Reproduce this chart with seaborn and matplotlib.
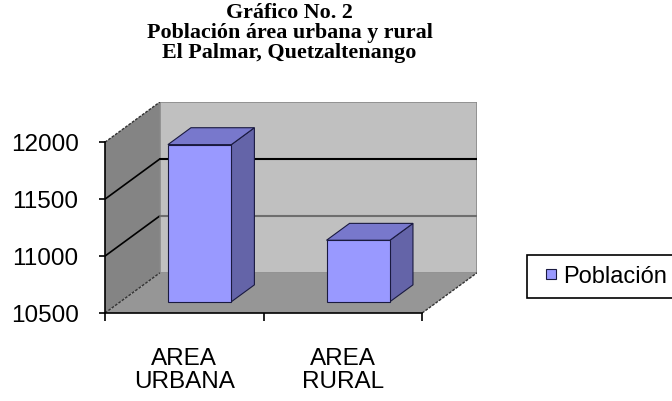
import matplotlib
matplotlib.use('Agg')
import matplotlib.pyplot as plt
from matplotlib.patches import Polygon
from matplotlib.lines import Line2D
import seaborn as sns

# datos
categorias = ['AREA\nURBANA', 'AREA\nRURAL']
poblacion = [11880, 11040]
serie = 'Población'
titulo = 'Gráfico No. 2\nPoblación área urbana y rural\nEl Palmar, Quetzaltenango'
yticks = [10500, 11000, 11500, 12000]

sns.set_theme(style='white')
plt.rcParams['font.family'] = ['Liberation Sans', 'DejaVu Sans']
plt.rcParams['text.color'] = 'black'
plt.rcParams['xtick.color'] = 'black'
plt.rcParams['ytick.color'] = 'black'

# colores tipo Excel 3D
c_frente = '#9999FF'
c_lado = '#6464A8'
c_tapa = '#7878CC'
c_fondo = '#C0C0C0'
c_pared = '#848484'
c_piso = '#969696'

ymin, ymax = yticks[0], yticks[-1]
DX = 0.346   # profundidad en unidades de x
DY = 353     # profundidad en unidades de y
d0, d1 = 0.28, 0.70  # profundidad de las barras

fig = plt.figure(figsize=(6.72, 4.01), dpi=100)
ax = fig.add_axes([105 / 672, 1 - 313 / 401, 372 / 672, 211 / 401])

# barras
sns.barplot(x=categorias, y=poblacion, color=c_frente, width=0.4, saturation=1,
            edgecolor='#1a1a40', linewidth=0.8, ax=ax, zorder=2)
ax.set_xlim(-0.5, 1.5 + DX)
ax.set_ylim(ymin, ymax + DY)


def P(x, y, d):
    return (x + d * DX, y + d * DY)


x0, x1 = -0.5, 1.5
# paredes
ax.add_patch(Polygon([P(x0, ymin, 1), P(x1, ymin, 1), P(x1, ymax, 1), P(x0, ymax, 1)],
                     closed=True, fc=c_fondo, ec='#8a8a8a', lw=1.2, zorder=0))
ax.add_patch(Polygon([P(x0, ymin, 0), P(x0, ymax, 0), P(x0, ymax, 1), P(x0, ymin, 1)],
                     closed=True, fc=c_pared, ec='none', zorder=0.5))
ax.add_patch(Polygon([P(x0, ymin, 0), P(x1, ymin, 0), P(x1, ymin, 1), P(x0, ymin, 1)],
                     closed=True, fc=c_piso, ec='none', zorder=0.5))
# bordes punteados de la pared y piso
for a, b in [(P(x0, ymax, 0), P(x0, ymax, 1)), (P(x0, ymin, 0), P(x0, ymin, 1)),
             (P(x1, ymin, 0), P(x1, ymin, 1))]:
    ax.plot([a[0], b[0]], [a[1], b[1]], color='#333333', lw=1, ls=(0, (2, 1)), zorder=0.8)

# lineas de cuadricula
for v in yticks[1:-1]:
    col = 'black' if v == 11500 else '#6e6e6e'
    a, b, c = P(x0, v, 0), P(x0, v, 1), P(x1, v, 1)
    ax.plot([a[0], b[0]], [a[1], b[1]], color='black', lw=1.2, zorder=0.8)
    ax.plot([b[0], c[0]], [b[1], c[1]], color=col, lw=1.5, zorder=0.8)

for bar in list(ax.patches):
    if not hasattr(bar, 'get_width') or bar.get_height() < ymin:
        continue
    xl = bar.get_x()
    xr = xl + bar.get_width()
    top = bar.get_height()
    bar.set_x(xl + d0 * DX)
    bar.set_y(ymin + d0 * DY)
    bar.set_height(top - ymin)
    ax.add_patch(Polygon([P(xr, ymin, d0), P(xr, ymin, d1), P(xr, top, d1), P(xr, top, d0)],
                         closed=True, fc=c_lado, ec='#1a1a40', lw=0.8, zorder=1.9))
    ax.add_patch(Polygon([P(xl, top, d0), P(xr, top, d0), P(xr, top, d1), P(xl, top, d1)],
                         closed=True, fc=c_tapa, ec='#1a1a40', lw=0.8, zorder=1.9))

# ejes
for s in ['top', 'right']:
    ax.spines[s].set_visible(False)
ax.spines['left'].set_bounds(ymin, ymax)
ax.spines['bottom'].set_bounds(x0, x1)
for s in ['left', 'bottom']:
    ax.spines[s].set_color('black')
    ax.spines[s].set_linewidth(1.2)
ax.set_yticks(yticks)
ax.set_yticklabels([str(v) for v in yticks])
ax.set_xticks([-0.5, 0.5, 1.5])
ax.set_xticklabels([])
ax.set_xticks([0, 1], minor=True)
ax.set_xticklabels(categorias, minor=True, linespacing=1.1)
ax.tick_params(axis='y', which='major', left=True, length=4, width=1.2, pad=15, labelsize=17.5)
ax.tick_params(axis='x', which='major', bottom=True, length=6, width=1.2, direction='out')
ax.tick_params(axis='x', which='minor', bottom=False, length=0, pad=25, labelsize=17.5)
ax.set_xlabel('')
ax.set_ylabel('')
ax.set_facecolor('none')
ax.grid(False)

fig.text(0.431, 0.992, titulo, ha='center', va='top', fontsize=15.8, fontweight='bold',
         family=['Liberation Serif', 'DejaVu Serif'], linespacing=0.98)

handle = Line2D([], [], ls='none', marker='s', markersize=7.2, markerfacecolor=c_frente,
                markeredgecolor='#1a1a40', markeredgewidth=0.8)
leg = fig.legend(handles=[handle], labels=[serie],
                 loc='upper left', bbox_to_anchor=(527 / 672, 1 - 255 / 401), fontsize=17,
                 frameon=True, fancybox=False, edgecolor='black', framealpha=1, borderaxespad=0,
                 handlelength=1.1, handletextpad=0.0, borderpad=0.45)
leg.get_frame().set_linewidth(1.2)

fig.savefig('out.png', dpi=100, facecolor='white')
